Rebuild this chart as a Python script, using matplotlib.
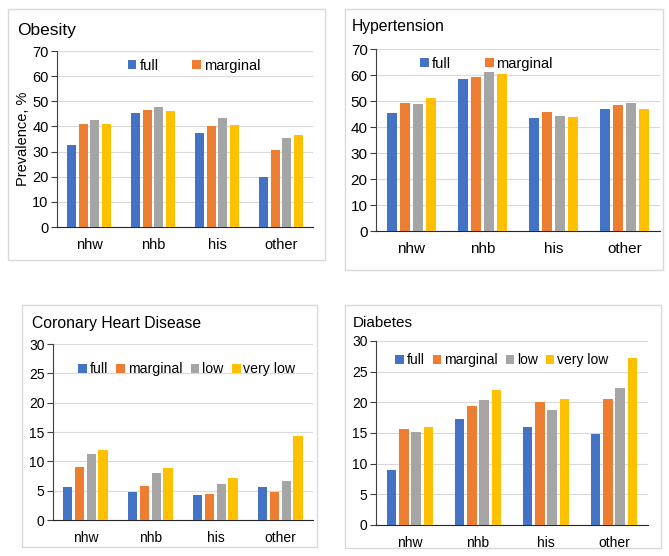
import numpy as np
import matplotlib
matplotlib.use('Agg')
import matplotlib.pyplot as plt
from matplotlib.patches import Rectangle

plt.rcParams['font.family'] = ['Liberation Sans', 'DejaVu Sans']

groups = ['nhw', 'nhb', 'his', 'other']
series = ['full', 'marginal', 'low', 'very low']
colors = ['#4472C4', '#ED7D31', '#A5A5A5', '#FFC000']

obesity = [[32.7, 45.4, 37.5, 19.9],
           [41.1, 46.5, 40.3, 30.6],
           [42.7, 47.7, 43.5, 35.3],
           [41.1, 46.1, 40.7, 36.7]]
hypertension = [[45.3, 58.4, 43.3, 46.8],
                [49.2, 59.2, 45.8, 48.3],
                [48.8, 61.2, 44.2, 49.4],
                [51.0, 60.4, 44.0, 47.0]]
chd = [[5.6, 4.8, 4.3, 5.7],
       [9.1, 5.8, 4.4, 4.7],
       [11.3, 8.1, 6.2, 6.7],
       [12.0, 8.8, 7.1, 14.3]]
diabetes = [[9.0, 17.2, 16.0, 14.8],
            [15.7, 19.4, 20.1, 20.6],
            [15.2, 20.4, 18.7, 22.3],
            [15.9, 22.0, 20.6, 27.3]]

fig = plt.figure(figsize=(6.69, 5.56), dpi=100)

# panel frames
for rect in [[0.012, 0.532, 0.474, 0.451], [0.516, 0.514, 0.475, 0.469],
             [0.033, 0.016, 0.441, 0.435], [0.516, 0.0144, 0.472, 0.437]]:
    fig.patches.append(Rectangle((rect[0], rect[1]), rect[2], rect[3], transform=fig.transFigure,
                                 facecolor='white', edgecolor='#D9D9D9', linewidth=1.0, zorder=-1))

panels = [
    dict(data=obesity, pos=[0.0852, 0.5917, 0.3827, 0.3165], ymax=70, step=10, title='Obesity',
         tpos=(0.025, 0.946), tsize=12.5, fs=10.5, ylabel='Prevalence, %',
         leg=dict(n=2, x=0.535, y=1.03, fs=10.5, cs=2.3)),
    dict(data=hypertension, pos=[0.562, 0.5845, 0.4245, 0.3273], ymax=70, step=10, title='Hypertension',
         tpos=(0.526, 0.953), tsize=11.3, fs=11, ylabel=None,
         leg=dict(n=2, x=0.39, y=1.03, fs=10.5, cs=2.3)),
    dict(data=chd, pos=[0.0792, 0.0647, 0.3886, 0.3165], ymax=30, step=5, title='Coronary Heart Disease',
         tpos=(0.048, 0.419), tsize=11.3, fs=10, ylabel=None,
         leg=dict(n=4, x=0.515, y=0.97, fs=10.2, cs=0.6)),
    dict(data=diabetes, pos=[0.562, 0.0558, 0.4066, 0.3309], ymax=30, step=5, title='Diabetes',
         tpos=(0.528, 0.419), tsize=11, fs=10, ylabel=None,
         leg=dict(n=4, x=0.463, y=1.0, fs=10.0, cs=0.6)),
]

x = np.arange(len(groups))
width = 0.14
pitch = 0.18

for p in panels:
    ax = fig.add_axes(p['pos'])
    ax.patch.set_alpha(0)
    handles = []
    for i, s in enumerate(series):
        b = ax.bar(x + (i - 1.5) * pitch, p['data'][i], width, color=colors[i], label=s, zorder=3)
        handles.append(b)
    ax.set_xlim(-0.5, 3.5)
    ax.set_ylim(0, p['ymax'])
    ax.set_yticks(np.arange(0, p['ymax'] + 1, p['step']))
    ax.set_xticks(x)
    ax.set_xticklabels(groups)
    ax.yaxis.grid(True, color='#D9D9D9', linewidth=0.8, zorder=0)
    ax.set_axisbelow(True)
    for side in ['top', 'right']:
        ax.spines[side].set_visible(False)
    ax.spines['left'].set_color('#404040')
    ax.spines['bottom'].set_color('#262626')
    ax.tick_params(axis='y', length=4, color='#404040', labelsize=p['fs'], pad=2)
    ax.tick_params(axis='x', length=0, labelsize=p['fs'], pad=8)
    if p['ylabel']:
        ax.set_ylabel(p['ylabel'], fontsize=p['fs'], labelpad=2)
    fig.text(p['tpos'][0], p['tpos'][1], p['title'], fontsize=p['tsize'], va='center', ha='left')
    lg = p['leg']
    n = lg['n']
    ax.legend(handles[:n], series[:n], loc='upper center', bbox_to_anchor=(lg['x'], lg['y']),
              ncol=n, frameon=False, fontsize=lg['fs'], handlelength=0.6, handleheight=0.6,
              handletextpad=0.2, columnspacing=lg['cs'])

fig.savefig('out.png', dpi=100)
